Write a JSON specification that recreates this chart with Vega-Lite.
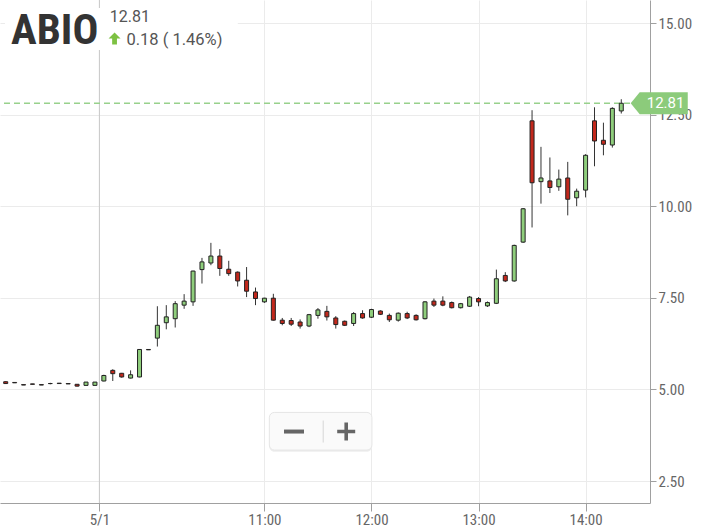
{
  "$schema": "https://vega.github.io/schema/vega-lite/v6.json",
  "width": 650,
  "height": 503,
  "autosize": "none",
  "padding": {"left": 0, "top": 0, "right": 57, "bottom": 27},
  "background": "white",
  "config": {
    "view": {"stroke": null},
    "axis": {
      "labelFont": "Roboto Condensed, Liberation Sans Narrow, DejaVu Sans Condensed, Roboto, sans-serif",
      "labelColor": "#666666",
      "labelFontSize": 15,
      "gridColor": "#ebebeb",
      "domainColor": "#a0a0a0",
      "tickColor": "#a0a0a0"
    },
    "text": {"font": "Roboto, sans-serif"}
  },
  "datasets": {
    "one": [{"k": 1}]
  },
  "data": {
    "values": [
      {"t": "2019-05-01T08:35:00", "o": 5.21, "h": 5.22, "l": 5.15, "c": 5.16},
      {"t": "2019-05-01T08:40:00", "o": 5.19, "h": 5.19, "l": 5.18, "c": 5.18},
      {"t": "2019-05-01T08:45:00", "o": 5.13, "h": 5.13, "l": 5.12, "c": 5.12},
      {"t": "2019-05-01T08:50:00", "o": 5.15, "h": 5.15, "l": 5.14, "c": 5.14},
      {"t": "2019-05-01T08:55:00", "o": 5.13, "h": 5.13, "l": 5.12, "c": 5.12},
      {"t": "2019-05-01T09:00:00", "o": 5.16, "h": 5.18, "l": 5.14, "c": 5.16},
      {"t": "2019-05-01T09:05:00", "o": 5.17, "h": 5.17, "l": 5.16, "c": 5.16},
      {"t": "2019-05-01T09:10:00", "o": 5.16, "h": 5.16, "l": 5.15, "c": 5.15},
      {"t": "2019-05-01T09:15:00", "o": 5.14, "h": 5.14, "l": 5.08, "c": 5.09},
      {"t": "2019-05-01T09:20:00", "o": 5.11, "h": 5.20, "l": 5.11, "c": 5.20},
      {"t": "2019-05-01T09:25:00", "o": 5.11, "h": 5.20, "l": 5.11, "c": 5.20},
      {"t": "2019-05-01T09:30:00", "o": 5.23, "h": 5.40, "l": 5.22, "c": 5.38},
      {"t": "2019-05-01T09:35:00", "o": 5.52, "h": 5.55, "l": 5.23, "c": 5.43},
      {"t": "2019-05-01T09:40:00", "o": 5.44, "h": 5.45, "l": 5.32, "c": 5.34},
      {"t": "2019-05-01T09:45:00", "o": 5.31, "h": 5.52, "l": 5.30, "c": 5.40},
      {"t": "2019-05-01T09:50:00", "o": 5.34, "h": 6.10, "l": 5.33, "c": 6.09},
      {"t": "2019-05-01T09:55:00", "o": 6.09, "h": 6.09, "l": 6.08, "c": 6.08},
      {"t": "2019-05-01T10:00:00", "o": 6.40, "h": 7.27, "l": 6.17, "c": 6.75},
      {"t": "2019-05-01T10:05:00", "o": 6.82, "h": 7.30, "l": 6.64, "c": 6.98},
      {"t": "2019-05-01T10:10:00", "o": 6.93, "h": 7.41, "l": 6.69, "c": 7.34},
      {"t": "2019-05-01T10:15:00", "o": 7.30, "h": 7.60, "l": 7.20, "c": 7.41},
      {"t": "2019-05-01T10:20:00", "o": 7.39, "h": 8.24, "l": 7.28, "c": 8.23},
      {"t": "2019-05-01T10:25:00", "o": 8.27, "h": 8.59, "l": 7.89, "c": 8.48},
      {"t": "2019-05-01T10:30:00", "o": 8.45, "h": 9.00, "l": 8.39, "c": 8.64},
      {"t": "2019-05-01T10:35:00", "o": 8.64, "h": 8.83, "l": 8.10, "c": 8.30},
      {"t": "2019-05-01T10:40:00", "o": 8.28, "h": 8.51, "l": 8.10, "c": 8.16},
      {"t": "2019-05-01T10:45:00", "o": 8.20, "h": 8.22, "l": 7.81, "c": 7.96},
      {"t": "2019-05-01T10:50:00", "o": 7.98, "h": 8.34, "l": 7.52, "c": 7.68},
      {"t": "2019-05-01T10:55:00", "o": 7.66, "h": 7.78, "l": 7.30, "c": 7.48},
      {"t": "2019-05-01T11:00:00", "o": 7.39, "h": 7.50, "l": 7.36, "c": 7.49},
      {"t": "2019-05-01T11:05:00", "o": 7.49, "h": 7.61, "l": 6.88, "c": 6.89},
      {"t": "2019-05-01T11:10:00", "o": 6.89, "h": 6.95, "l": 6.75, "c": 6.80},
      {"t": "2019-05-01T11:15:00", "o": 6.88, "h": 6.95, "l": 6.73, "c": 6.78},
      {"t": "2019-05-01T11:20:00", "o": 6.84, "h": 6.91, "l": 6.66, "c": 6.73},
      {"t": "2019-05-01T11:25:00", "o": 6.73, "h": 7.06, "l": 6.70, "c": 7.04},
      {"t": "2019-05-01T11:30:00", "o": 7.02, "h": 7.22, "l": 6.93, "c": 7.17},
      {"t": "2019-05-01T11:35:00", "o": 7.13, "h": 7.28, "l": 6.88, "c": 6.98},
      {"t": "2019-05-01T11:40:00", "o": 6.95, "h": 7.00, "l": 6.66, "c": 6.77},
      {"t": "2019-05-01T11:45:00", "o": 6.86, "h": 6.88, "l": 6.73, "c": 6.75},
      {"t": "2019-05-01T11:50:00", "o": 6.80, "h": 7.11, "l": 6.73, "c": 7.07},
      {"t": "2019-05-01T11:55:00", "o": 7.07, "h": 7.16, "l": 6.93, "c": 6.95},
      {"t": "2019-05-01T12:00:00", "o": 6.97, "h": 7.20, "l": 6.95, "c": 7.18},
      {"t": "2019-05-01T12:05:00", "o": 7.14, "h": 7.16, "l": 7.03, "c": 7.05},
      {"t": "2019-05-01T12:10:00", "o": 7.02, "h": 7.07, "l": 6.84, "c": 6.90},
      {"t": "2019-05-01T12:15:00", "o": 6.89, "h": 7.10, "l": 6.85, "c": 7.08},
      {"t": "2019-05-01T12:20:00", "o": 7.07, "h": 7.12, "l": 6.92, "c": 6.95},
      {"t": "2019-05-01T12:25:00", "o": 7.02, "h": 7.05, "l": 6.88, "c": 6.90},
      {"t": "2019-05-01T12:30:00", "o": 6.93, "h": 7.41, "l": 6.91, "c": 7.39},
      {"t": "2019-05-01T12:35:00", "o": 7.41, "h": 7.48, "l": 7.25, "c": 7.30},
      {"t": "2019-05-01T12:40:00", "o": 7.41, "h": 7.54, "l": 7.27, "c": 7.30},
      {"t": "2019-05-01T12:45:00", "o": 7.37, "h": 7.40, "l": 7.21, "c": 7.23},
      {"t": "2019-05-01T12:50:00", "o": 7.23, "h": 7.36, "l": 7.21, "c": 7.34},
      {"t": "2019-05-01T12:55:00", "o": 7.27, "h": 7.55, "l": 7.25, "c": 7.52},
      {"t": "2019-05-01T13:00:00", "o": 7.48, "h": 7.52, "l": 7.27, "c": 7.39},
      {"t": "2019-05-01T13:05:00", "o": 7.28, "h": 7.40, "l": 7.25, "c": 7.37},
      {"t": "2019-05-01T13:10:00", "o": 7.35, "h": 8.27, "l": 7.33, "c": 8.02},
      {"t": "2019-05-01T13:15:00", "o": 8.11, "h": 8.20, "l": 7.93, "c": 7.96},
      {"t": "2019-05-01T13:20:00", "o": 7.96, "h": 8.95, "l": 7.94, "c": 8.93},
      {"t": "2019-05-01T13:25:00", "o": 9.02, "h": 9.95, "l": 9.00, "c": 9.93},
      {"t": "2019-05-01T13:30:00", "o": 12.33, "h": 12.62, "l": 9.42, "c": 10.64},
      {"t": "2019-05-01T13:35:00", "o": 10.67, "h": 11.62, "l": 10.07, "c": 10.77},
      {"t": "2019-05-01T13:40:00", "o": 10.69, "h": 11.33, "l": 10.36, "c": 10.51},
      {"t": "2019-05-01T13:45:00", "o": 10.53, "h": 11.00, "l": 10.42, "c": 10.74},
      {"t": "2019-05-01T13:50:00", "o": 10.77, "h": 11.21, "l": 9.75, "c": 10.19},
      {"t": "2019-05-01T13:55:00", "o": 10.23, "h": 10.48, "l": 10.00, "c": 10.41},
      {"t": "2019-05-01T14:00:00", "o": 10.44, "h": 11.42, "l": 10.24, "c": 11.39},
      {"t": "2019-05-01T14:05:00", "o": 12.33, "h": 12.70, "l": 11.09, "c": 11.78},
      {"t": "2019-05-01T14:10:00", "o": 11.80, "h": 12.28, "l": 11.39, "c": 11.69},
      {"t": "2019-05-01T14:15:00", "o": 11.67, "h": 12.70, "l": 11.60, "c": 12.67},
      {"t": "2019-05-01T14:20:00", "o": 12.60, "h": 12.92, "l": 12.53, "c": 12.81}
    ]
  },
  "layer": [
    {
      "data": {"name": "one"},
      "mark": {"type": "rule", "color": "#c8c8c8", "strokeWidth": 1},
      "encoding": {
        "x": {"datum": {"year": 2019, "month": 5, "date": 1, "hours": 9, "minutes": 27, "seconds": 30}, "type": "temporal"}
      }
    },
    {
      "data": {"name": "one"},
      "mark": {"type": "rule", "color": "#98d18c", "strokeWidth": 1.4, "strokeDash": [6, 4]},
      "encoding": {
        "y": {"datum": 12.81, "type": "quantitative"}
      }
    },
    {
      "mark": {"type": "rule", "color": "#333333", "strokeWidth": 1},
      "encoding": {
        "x": {
          "field": "t", "type": "temporal",
          "scale": {
            "domain": [
              {"year": 2019, "month": 5, "date": 1, "hours": 8, "minutes": 34, "seconds": 36},
              {"year": 2019, "month": 5, "date": 1, "hours": 14, "minutes": 33, "seconds": 18}
            ]
          },
          "axis": {
            "orient": "bottom",
            "title": null,
            "values": [
              {"year": 2019, "month": 5, "date": 1, "hours": 9, "minutes": 27, "seconds": 30},
              {"year": 2019, "month": 5, "date": 1, "hours": 11, "minutes": 0},
              {"year": 2019, "month": 5, "date": 1, "hours": 12, "minutes": 0},
              {"year": 2019, "month": 5, "date": 1, "hours": 13, "minutes": 0},
              {"year": 2019, "month": 5, "date": 1, "hours": 14, "minutes": 0}
            ],
            "labelExpr": "hours(datum.value) < 10 ? '5/1' : timeFormat(datum.value, '%H:%M')",
            "grid": true,
            "tickSize": 8,
            "labelPadding": 1,
            "labelFlush": false,
            "labelOverlap": false
          }
        },
        "y": {
          "field": "l", "type": "quantitative",
          "scale": {"domain": [1.9, 15.628], "zero": false, "nice": false},
          "axis": {
            "orient": "right",
            "title": null,
            "values": [2.5, 5, 7.5, 10, 12.5, 15],
            "format": ".2f",
            "grid": true,
            "tickSize": 6,
            "labelPadding": 2
          }
        },
        "y2": {"field": "h"}
      }
    },
    {
      "mark": {"type": "bar", "size": 4, "stroke": "#222222", "strokeWidth": 1},
      "encoding": {
        "x": {"field": "t", "type": "temporal"},
        "y": {"field": "o", "type": "quantitative"},
        "y2": {"field": "c"},
        "fill": {
          "condition": {"test": "datum.c >= datum.o", "value": "#8fce7c"},
          "value": "#c2281c"
        }
      }
    },
    {
      "data": {"name": "one"},
      "mark": {"type": "rect", "fill": "white", "stroke": null},
      "encoding": {
        "x": {"datum": {"year": 2019, "month": 5, "date": 1, "hours": 8, "minutes": 34, "seconds": 36}, "type": "temporal"},
        "x2": {"datum": {"year": 2019, "month": 5, "date": 1, "hours": 10, "minutes": 45, "seconds": 5}},
        "y": {"datum": 15.41, "type": "quantitative"},
        "y2": {"datum": 14.26}
      }
    },
    {
      "data": {"name": "one"},
      "mark": {"type": "text", "text": "ABIO", "font": "Roboto Condensed, Liberation Sans Narrow, DejaVu Sans Condensed, Roboto, sans-serif", "fontSize": 43, "fontWeight": "bold", "color": "#333333", "align": "left", "baseline": "alphabetic"},
      "encoding": {
        "x": {"datum": {"year": 2019, "month": 5, "date": 1, "hours": 8, "minutes": 38, "seconds": 0}, "type": "temporal"},
        "y": {"datum": 14.44, "type": "quantitative"}
      }
    },
    {
      "data": {"name": "one"},
      "mark": {"type": "text", "text": "12.81", "fontSize": 16, "color": "#555555", "align": "left", "baseline": "alphabetic"},
      "encoding": {
        "x": {"datum": {"year": 2019, "month": 5, "date": 1, "hours": 9, "minutes": 33, "seconds": 20}, "type": "temporal"},
        "y": {"datum": 15.03, "type": "quantitative"}
      }
    },
    {
      "data": {"name": "one"},
      "mark": {"type": "point", "shape": "M0,-1 L1,0 L0.4,0 L0.4,1 L-0.4,1 L-0.4,0 L-1,0 Z", "size": 144, "filled": true, "opacity": 1, "color": "#7dc142", "strokeWidth": 0},
      "encoding": {
        "x": {"datum": {"year": 2019, "month": 5, "date": 1, "hours": 9, "minutes": 36, "seconds": 0}, "type": "temporal"},
        "y": {"datum": 14.58, "type": "quantitative"}
      }
    },
    {
      "data": {"name": "one"},
      "mark": {"type": "text", "text": "0.18 ( 1.46%)", "fontSize": 16.5, "color": "#555555", "align": "left", "baseline": "alphabetic"},
      "encoding": {
        "x": {"datum": {"year": 2019, "month": 5, "date": 1, "hours": 9, "minutes": 42, "seconds": 40}, "type": "temporal"},
        "y": {"datum": 14.40, "type": "quantitative"}
      }
    },
    {
      "data": {"name": "one"},
      "mark": {"type": "rect", "fill": "#eeeeee", "stroke": null, "cornerRadius": 5},
      "encoding": {
        "x": {"datum": {"year": 2019, "month": 5, "date": 1, "hours": 11, "minutes": 2, "seconds": 45}, "type": "temporal"},
        "x2": {"datum": {"year": 2019, "month": 5, "date": 1, "hours": 12, "minutes": 0, "seconds": 15}},
        "y": {"datum": 4.34, "type": "quantitative"},
        "y2": {"datum": 3.30}
      }
    },
    {
      "data": {"name": "one"},
      "mark": {"type": "rect", "fill": "#fafafa", "stroke": "#e6e6e6", "strokeWidth": 1, "cornerRadius": 5},
      "encoding": {
        "x": {"datum": {"year": 2019, "month": 5, "date": 1, "hours": 11, "minutes": 2, "seconds": 45}, "type": "temporal"},
        "x2": {"datum": {"year": 2019, "month": 5, "date": 1, "hours": 12, "minutes": 0, "seconds": 15}},
        "y": {"datum": 4.372, "type": "quantitative"},
        "y2": {"datum": 3.345}
      }
    },
    {
      "data": {"name": "one"},
      "mark": {"type": "rule", "color": "#d6d6d6", "strokeWidth": 1},
      "encoding": {
        "x": {"datum": {"year": 2019, "month": 5, "date": 1, "hours": 11, "minutes": 32, "seconds": 57}, "type": "temporal"},
        "y": {"datum": 4.15, "type": "quantitative"},
        "y2": {"datum": 3.55}
      }
    },
    {
      "data": {"name": "one"},
      "mark": {"type": "point", "shape": "M-1,-0.2 L1,-0.2 L1,0.2 L-1,0.2 Z", "size": 400, "filled": true, "opacity": 1, "color": "#666666", "strokeWidth": 0},
      "encoding": {
        "x": {"datum": {"year": 2019, "month": 5, "date": 1, "hours": 11, "minutes": 16, "seconds": 35}, "type": "temporal"},
        "y": {"datum": 3.85, "type": "quantitative"}
      }
    },
    {
      "data": {"name": "one"},
      "mark": {"type": "point", "shape": "M-1,-0.2 L-0.2,-0.2 L-0.2,-1 L0.2,-1 L0.2,-0.2 L1,-0.2 L1,0.2 L0.2,0.2 L0.2,1 L-0.2,1 L-0.2,0.2 L-1,0.2 Z", "size": 324, "filled": true, "opacity": 1, "color": "#666666", "strokeWidth": 0},
      "encoding": {
        "x": {"datum": {"year": 2019, "month": 5, "date": 1, "hours": 11, "minutes": 45, "seconds": 50}, "type": "temporal"},
        "y": {"datum": 3.85, "type": "quantitative"}
      }
    },
    {
      "data": {"name": "one"},
      "mark": {"type": "point", "shape": "M-2.55,0 L-1.73,-1 L2.64,-1 L2.64,1 L-1.73,1 Z", "size": 484, "filled": true, "opacity": 1, "color": "#8ccb7b", "strokeWidth": 0},
      "encoding": {
        "x": {"datum": {"year": 2019, "month": 5, "date": 1, "hours": 14, "minutes": 41, "seconds": 0}, "type": "temporal"},
        "y": {"datum": 12.81, "type": "quantitative"}
      }
    },
    {
      "data": {"name": "one"},
      "mark": {"type": "text", "text": "12.81", "fontSize": 15, "color": "white", "align": "center", "baseline": "middle"},
      "encoding": {
        "x": {"datum": {"year": 2019, "month": 5, "date": 1, "hours": 14, "minutes": 44, "seconds": 50}, "type": "temporal"},
        "y": {"datum": 12.81, "type": "quantitative"}
      }
    }
  ]
}
